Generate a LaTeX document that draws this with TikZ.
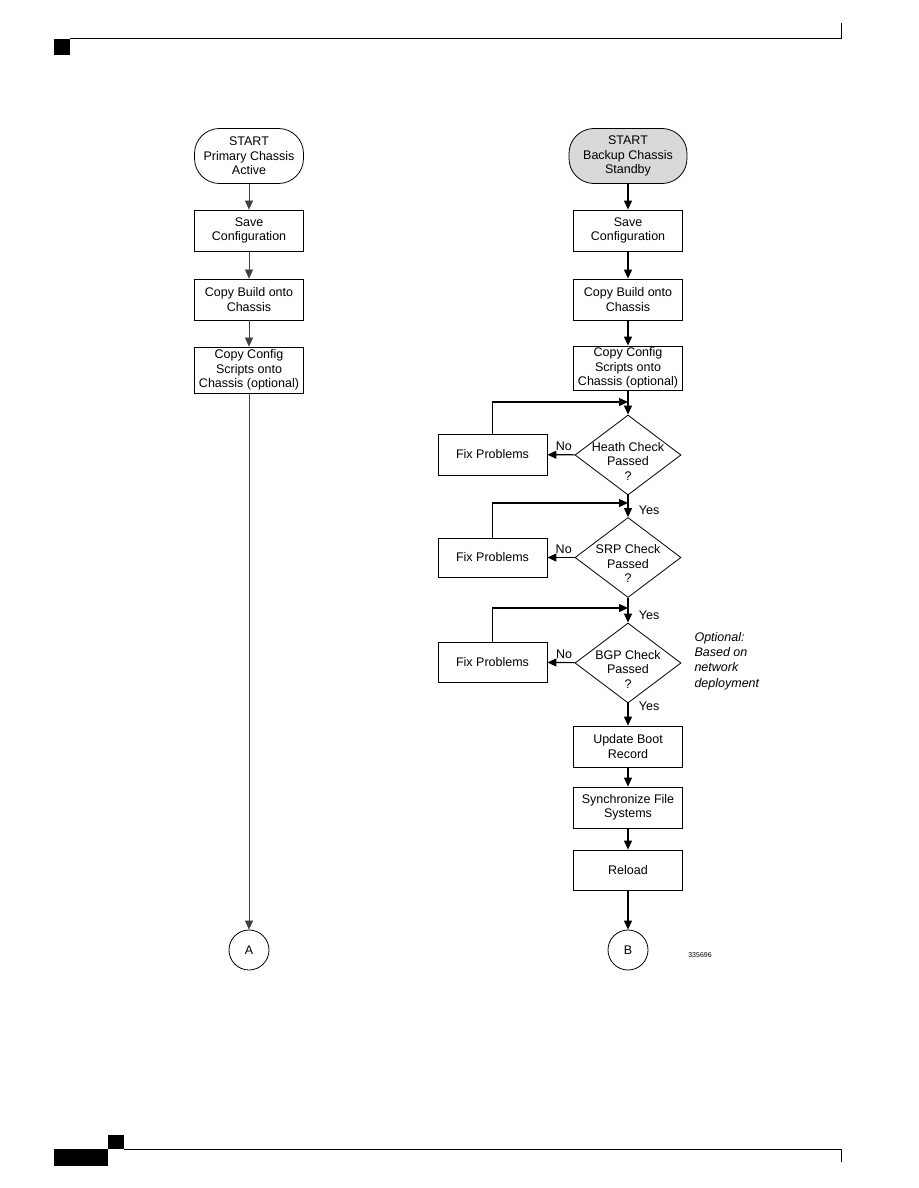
\documentclass[tikz,border=0pt]{standalone}
\usepackage{fontspec}
\setmainfont{Liberation Sans}
\usetikzlibrary{shapes.geometric,arrows.meta}
\definecolor{startgray}{RGB}{217,217,217}
\tikzset{
	txt/.style={font=\fontsize{12.5}{14.5}\selectfont, align=center},
	box/.style={txt, draw, line width=0.8pt, minimum width=109pt, minimum height=41pt, inner sep=1pt},
	term/.style={box, rounded corners=25pt, minimum height=55pt},
	decision/.style={draw, diamond, line width=0.8pt, minimum width=106pt, minimum height=80pt, inner sep=0pt},
	conn/.style={txt, draw, circle, line width=0.8pt, minimum size=40pt, inner sep=0pt},
	leftline/.style={->, line width=0.6pt, black!75},
	rightline/.style={->, line width=1.1pt},
}
\begin{document}
\begin{tikzpicture}[x=1pt, y=-1pt, >={Triangle[length=9pt,width=8pt]}]
	\useasboundingbox (0,0) rectangle (918,1188);
	\fill (54,39) rectangle (70,55);
	\draw [line width=1pt] (70,39) -- (841,39) -- (841,23);
	\fill (54,1149) rectangle (108,1166);
	\fill (108,1135) rectangle (124,1149);
	\draw [line width=1pt] (124,1149) -- (841,1149) -- (841,1162);

	\node [term] (L0) at (249, 156) {START\\Primary Chassis\\Active};
	\node [box] (L1) at (249, 230.5) {Save\\Configuration};
	\node [box] (L2) at (249, 299.5) {Copy Build onto\\Chassis};
	\node [box, minimum height=46pt] (L3) at (249, 370) {Copy Config\\Scripts onto\\Chassis (optional)};
	\node [conn] (LA) at (249, 950) {A};
	\draw [leftline] (L0) -- (L1);
	\draw [leftline] (L1) -- (L2);
	\draw [leftline] (L2) -- (L3);
	\draw [leftline] (L3) -- (LA);

	\node [term, fill=startgray, minimum width=118pt] (R0) at (628, 156) {START\\Backup Chassis\\Standby};
	\node [box] (R1) at (628, 230.5) {Save\\Configuration};
	\node [box] (R2) at (628, 299.5) {Copy Build onto\\Chassis};
	\node [box, minimum height=44pt] (R3) at (628, 368) {Copy Config\\Scripts onto\\Chassis (optional)};
	\node [decision, label={[txt, yshift=-6pt]center:Heath Check\\Passed\\?}] (D1) at (628, 455) {};
	\node [decision, label={[txt, yshift=-6pt]center:SRP Check\\Passed\\?}] (D2) at (628, 557.5) {};
	\node [decision, label={[txt, yshift=-6pt]center:BGP Check\\Passed\\?}] (D3) at (628, 663) {};
	\node [box] (F1) at (492.5, 454.5) {Fix Problems};
	\node [box, minimum height=39pt] (F2) at (492.5, 557.5) {Fix Problems};
	\node [box, minimum height=40pt] (F3) at (492.5, 662) {Fix Problems};
	\node [box] (R4) at (628, 746.5) {Update Boot\\Record};
	\node [box] (R5) at (628, 807.5) {Synchronize File\\Systems};
	\node [box, minimum height=40pt] (R6) at (628, 870) {Reload};
	\node [conn] (RB) at (628, 950) {B};
	\node [txt, font=\fontsize{12.5}{15.2}\itshape, align=left, anchor=west] (opt) at (691, 661) {Optional:\\Based on\\network\\deployment};
	\node [font=\fontsize{7}{8}\selectfont] (fig) at (700, 955) {335696};

	\coordinate (J1) at (628, 402);
	\coordinate (J2) at (628, 503);
	\coordinate (J3) at (628, 608);

	\draw [rightline] (R0) -- (R1);
	\draw [rightline] (R1) -- (R2);
	\draw [rightline] (R2) -- (R3);
	\draw [rightline] (R3) -- (D1);
	\draw [rightline] (D1) -- node [txt, above, pos=0.4] (n1) {No} (F1);
	\draw [rightline] (F1.north) |- (J1);
	\draw [rightline] (D1) -- node [txt, right=7pt, pos=0.68] (y1) {Yes} (D2);
	\draw [rightline] (D2) -- node [txt, above, pos=0.4] (n2) {No} (F2);
	\draw [rightline] (F2.north) |- (J2);
	\draw [rightline] (D2) -- node [txt, right=7pt, pos=0.7] (y2) {Yes} (D3);
	\draw [rightline] (D3) -- node [txt, above, pos=0.4] (n3) {No} (F3);
	\draw [rightline] (F3.north) |- (J3);
	\draw [rightline] (D3) -- node [txt, right=7pt, pos=0.15] (y3) {Yes} (R4);
	\draw [rightline] (R4) -- (R5);
	\draw [rightline] (R5) -- (R6);
	\draw [rightline] (R6) -- (RB);
\end{tikzpicture}
\end{document}
